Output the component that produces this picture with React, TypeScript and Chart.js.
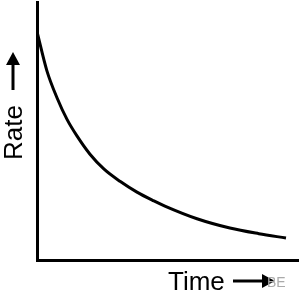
import React, { useEffect, useRef } from "react";
import { Chart, registerables } from "chart.js";

Chart.register(...registerables);

const times = [0, 0.38, 0.77, 1.15, 1.53, 2.03, 2.57, 3.18, 3.83, 4.48, 4.9, 6.13, 7.39, 8.5, 9.54];
const rates = [8.85, 7.33, 6.28, 5.45, 4.81, 4.1, 3.52, 3.05, 2.63, 2.29, 2.09, 1.6, 1.24, 1.02, 0.85];
const xTitle = "Time";
const yTitle = "Rate";
const watermark = "BE";

const FONT = "26px 'Liberation Sans', Arial, sans-serif";

const axisLabels = {
  id: "axisLabels",
  afterDraw(chart: any) {
    const { ctx, chartArea } = chart;
    ctx.save();
    ctx.fillStyle = "#000";
    ctx.strokeStyle = "#000";
    ctx.font = FONT;
    ctx.textBaseline = "alphabetic";

    // x title
    ctx.textAlign = "left";
    const tx = chartArea.left + 131;
    const ty = chartArea.bottom + 30;
    ctx.fillText(xTitle, tx, ty);

    // x arrow
    const ay = chartArea.bottom + 21;
    ctx.lineWidth = 3;
    ctx.beginPath();
    ctx.moveTo(chartArea.left + 196, ay);
    ctx.lineTo(chartArea.left + 225, ay);
    ctx.stroke();
    ctx.beginPath();
    ctx.moveTo(chartArea.left + 238, ay);
    ctx.lineTo(chartArea.left + 225, ay - 7);
    ctx.lineTo(chartArea.left + 225, ay + 7);
    ctx.closePath();
    ctx.fill();

    // watermark
    ctx.fillStyle = "#aaaaaa";
    ctx.font = "14px 'Liberation Sans', Arial, sans-serif";
    ctx.fillText(watermark, chartArea.left + 230, chartArea.bottom + 27);

    // y title (rotated)
    ctx.fillStyle = "#000";
    ctx.font = FONT;
    ctx.save();
    ctx.translate(chartArea.left - 15, chartArea.top + 158);
    ctx.rotate(-Math.PI / 2);
    ctx.textAlign = "left";
    ctx.fillText(yTitle, 0, 0);
    ctx.restore();

    // y arrow
    const ax = chartArea.left - 24;
    ctx.beginPath();
    ctx.moveTo(ax, chartArea.top + 88);
    ctx.lineTo(ax, chartArea.top + 62);
    ctx.stroke();
    ctx.beginPath();
    ctx.moveTo(ax, chartArea.top + 50);
    ctx.lineTo(ax - 7, chartArea.top + 63);
    ctx.lineTo(ax + 7, chartArea.top + 63);
    ctx.closePath();
    ctx.fill();

    ctx.restore();
  },
};

export default function App() {
  const ref = useRef<HTMLCanvasElement | null>(null);

  useEffect(() => {
    document.body.style.margin = "0";
    const canvas = ref.current;
    if (!canvas) return;
    const chart = new Chart(canvas, {
      type: "line",
      data: {
        datasets: [
          {
            data: times.map((t, i) => ({ x: t, y: rates[i] })),
            borderColor: "#000",
            borderWidth: 3,
            pointRadius: 0,
            cubicInterpolationMode: "monotone",
            fill: false,
          },
        ],
      },
      options: {
        animation: false,
        responsive: false,
        devicePixelRatio: 1,
        layout: { padding: { left: 37, top: 2, right: 3, bottom: 35 } },
        plugins: {
          legend: { display: false },
          tooltip: { enabled: false },
        },
        scales: {
          x: {
            type: "linear",
            min: 0,
            max: 10,
            ticks: { display: false },
            grid: { display: false, drawTicks: false },
            border: { display: true, color: "#000", width: 3 },
          },
          y: {
            type: "linear",
            min: 0,
            max: 10,
            ticks: { display: false },
            grid: { display: false, drawTicks: false },
            border: { display: true, color: "#000", width: 3 },
          },
        },
      },
      plugins: [axisLabels],
    });
    return () => chart.destroy();
  }, []);

  return (
    <div style={{ width: 301, height: 295, background: "#fff" }}>
      <canvas ref={ref} width={301} height={295} />
    </div>
  );
}
